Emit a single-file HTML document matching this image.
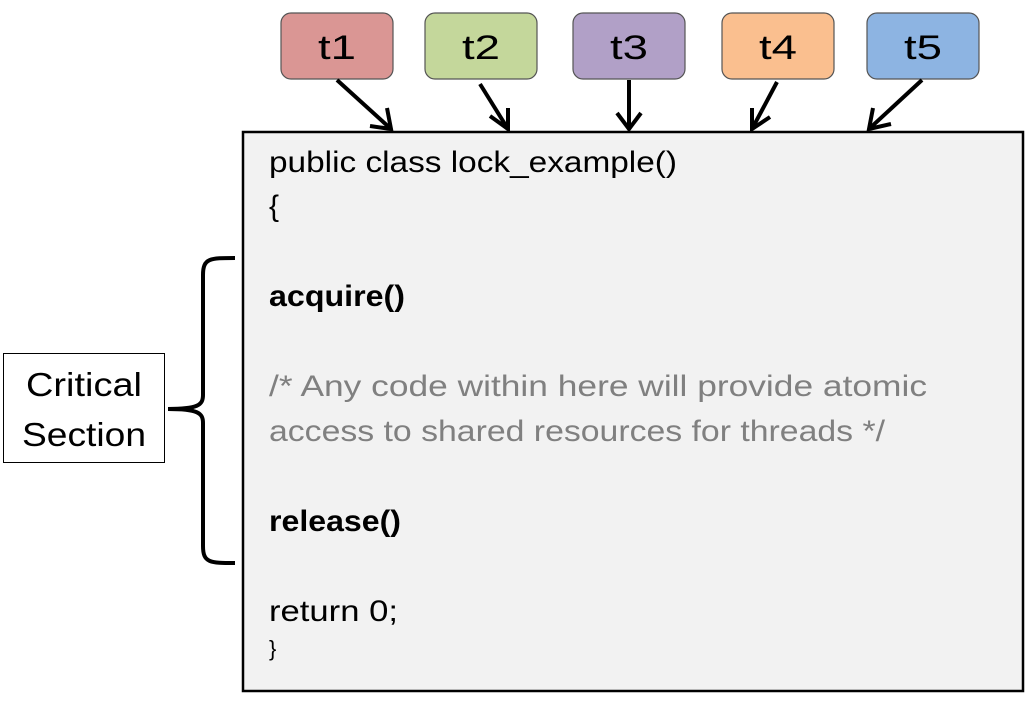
<!DOCTYPE html>
<html><head><style>html,body{margin:0;padding:0;background:#fff;}</style></head>
<body>
<svg width="1036" height="714" viewBox="0 0 1036 714" xmlns="http://www.w3.org/2000/svg" font-family="Liberation Sans, sans-serif">
<rect x="243" y="132" width="780" height="559" fill="#f2f2f2" stroke="#000" stroke-width="2.5"/>
<g stroke="#555" stroke-width="1.2">
<rect x="281" y="13" width="112" height="66" rx="10" fill="#da9694"/>
<rect x="425" y="13" width="112" height="66" rx="10" fill="#c4d79b"/>
<rect x="573" y="13" width="112" height="66" rx="10" fill="#b1a0c7"/>
<rect x="722" y="13" width="112" height="66" rx="10" fill="#fabf8f"/>
<rect x="867" y="13" width="112" height="66" rx="10" fill="#8db4e2"/>
</g>
<g font-size="34" text-anchor="middle" fill="#000">
<text x="337" y="59" textLength="38" lengthAdjust="spacingAndGlyphs">t1</text><text x="481" y="59" textLength="38" lengthAdjust="spacingAndGlyphs">t2</text><text x="629" y="59" textLength="38" lengthAdjust="spacingAndGlyphs">t3</text><text x="778" y="59" textLength="38" lengthAdjust="spacingAndGlyphs">t4</text><text x="923" y="59" textLength="38" lengthAdjust="spacingAndGlyphs">t5</text>
</g>
<g stroke="#000" stroke-width="4" fill="none" stroke-linecap="butt">
<line x1="337" y1="80" x2="391" y2="129"/><polyline points="370,126 391,129 387,108"/>
<line x1="480" y1="84" x2="508" y2="129"/><polyline points="490,116 508,129 508,108"/>
<line x1="629" y1="80" x2="629" y2="129"/><polyline points="617,113 629,129 641,113"/>
<line x1="777" y1="82" x2="752" y2="129"/><polyline points="752,108 752,129 770,117"/>
<line x1="922" y1="80" x2="869" y2="129"/><polyline points="873,108 869,129 891,124"/>
</g>
<rect x="3.5" y="353.5" width="161" height="109" fill="#fff" stroke="#000" stroke-width="1"/>
<g font-size="33" text-anchor="middle" fill="#000">
<text x="84" y="396" textLength="116" lengthAdjust="spacingAndGlyphs">Critical</text><text x="84" y="446" textLength="124" lengthAdjust="spacingAndGlyphs">Section</text>
</g>
<path d="M235,258 C210,258 203,258 203,275 L203,395 C203,405 198,409 168,409 C198,409 203,413 203,423 L203,546 C203,563 210,563 235,563" fill="none" stroke="#000" stroke-width="4"/>
<g font-size="30" fill="#000">
<text x="269" y="172" textLength="408" lengthAdjust="spacingAndGlyphs">public class lock_example()</text>
<text x="269" y="216">{</text>
<text x="269" y="306" font-weight="bold" textLength="136" lengthAdjust="spacingAndGlyphs">acquire()</text>
<text x="269" y="396" fill="#808080" textLength="658" lengthAdjust="spacingAndGlyphs">/* Any code within here will provide atomic</text>
<text x="269" y="441" fill="#808080" textLength="616" lengthAdjust="spacingAndGlyphs">access to shared resources for threads */</text>
<text x="269" y="531" font-weight="bold" textLength="132" lengthAdjust="spacingAndGlyphs">release()</text>
<text x="269" y="621" textLength="129" lengthAdjust="spacingAndGlyphs">return 0;</text>
<text x="269" y="656" font-size="22">}</text>
</g>
</svg>
</body></html>
